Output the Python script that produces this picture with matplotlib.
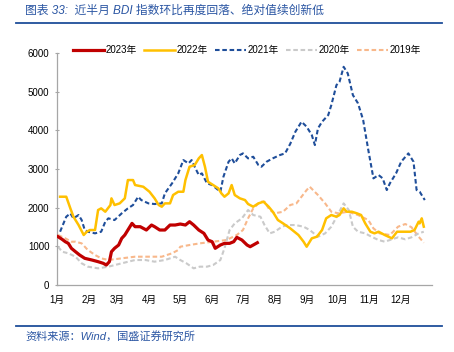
import matplotlib
matplotlib.use('Agg')
from matplotlib import pyplot as plt
from matplotlib.lines import Line2D

plt.rcParams['font.family'] = ['Liberation Sans', 'Noto Sans CJK SC', 'DejaVu Sans']

# day of year / BDI value
d2023 = [1, 5, 8, 11, 14, 18, 22, 27, 34, 40, 45, 48, 51, 53, 56, 60, 63, 66, 69, 73, 76, 81, 84, 87,
         92, 95, 100, 105, 110, 115, 120, 125, 129, 133, 138, 143, 147, 151, 154, 159, 163, 168, 172,
         175, 180, 185, 188, 191, 195]
v2023 = [1249, 1181, 1120, 1077, 949, 861, 776, 690, 646, 603, 561, 517, 603, 861, 949, 1034, 1207,
         1293, 1422, 1594, 1508, 1508, 1465, 1422, 1551, 1508, 1422, 1422, 1551, 1551, 1577, 1551, 1637,
         1551, 1422, 1336, 1163, 1120, 949, 1034, 1077, 1077, 1120, 1233, 1163, 1034, 990, 1034, 1094]

d2022 = [3, 9, 13, 16, 21, 26, 29, 32, 37, 40, 43, 47, 52, 53, 56, 61, 66, 69, 74, 76, 84, 90, 95, 99,
         102, 105, 110, 113, 118, 123, 125, 129, 134, 138, 141, 144, 147, 152, 157, 160, 163, 167, 170,
         173, 178, 183, 186, 191, 196, 201, 206, 210, 215, 220, 227, 235, 240, 243, 245, 248, 253, 258,
         262, 267, 272, 275, 279, 282, 287, 292, 296, 300, 305, 309, 313, 319, 326, 331, 337, 344, 348,
         352, 353, 355, 357]
v2022 = [2283, 2283, 1982, 1766, 1551, 1293, 1378, 1422, 1422, 1939, 1982, 1895, 2068, 2241, 2068,
         2111, 2241, 2714, 2714, 2585, 2541, 2412, 2241, 2068, 2025, 2111, 2111, 2327, 2412, 2412, 2714,
         3059, 3102, 3275, 3361, 3059, 2670, 2585, 2499, 2370, 2283, 2370, 2585, 2327, 2241, 2197, 2094,
         2025, 2111, 2154, 2025, 1895, 1680, 1594, 1465, 1293, 1119, 990, 1077, 1207, 1249, 1422, 1724,
         1810, 1766, 1810, 1982, 1895, 1895, 1853, 1810, 1594, 1378, 1336, 1378, 1293, 1207, 1378, 1378,
         1378, 1422, 1637, 1594, 1724, 1508]

d2021 = [3, 9, 13, 16, 21, 24, 27, 30, 37, 43, 47, 50, 56, 63, 69, 74, 79, 82, 89, 95, 102, 105, 112,
         118, 123, 128, 131, 134, 138, 141, 146, 151, 155, 159, 162, 167, 170, 173, 178, 181, 186, 191,
         196, 199, 204, 210, 217, 222, 227, 232, 238, 243, 248, 251, 254, 258, 264, 267, 272, 275, 279,
         283, 288, 293, 298, 303, 308, 313, 317, 321, 324, 330, 335, 342, 347, 350, 353, 358]
v2021 = [1378, 1766, 1853, 1724, 1810, 1680, 1422, 1378, 1336, 1378, 1637, 1724, 1680, 1853, 1982,
         2068, 2283, 2197, 2111, 2094, 2111, 2370, 2629, 2887, 3231, 3145, 3231, 3059, 2844, 2887, 2629,
         2585, 2499, 2412, 2800, 3188, 3275, 3145, 3361, 3404, 3275, 3317, 3102, 3059, 3188, 3275, 3361,
         3404, 3650, 3963, 4222, 4093, 3878, 3619, 4050, 4222, 4395, 4653, 5170, 5256, 5643, 5472, 4912,
         4697, 4265, 3490, 2758, 2844, 2758, 2456, 2629, 2887, 3188, 3404, 3188, 2456, 2412, 2197]

d2020 = [1, 5, 11, 18, 24, 30, 40, 50, 63, 76, 86, 95, 105, 115, 120, 123, 126, 133, 139, 146, 152, 159,
         163, 168, 173, 180, 186, 191, 198, 202, 207, 212, 219, 224, 232, 240, 246, 254, 261, 267, 274,
         279, 284, 288, 293, 300, 306, 313, 319, 326, 332, 339, 345, 352, 357]
v2020 = [990, 861, 820, 732, 561, 474, 431, 474, 561, 646, 646, 603, 646, 732, 646, 603, 561, 431, 474,
         474, 517, 646, 949, 1422, 1594, 1724, 1939, 1810, 1766, 1551, 1336, 1378, 1508, 1551, 1551, 1508,
         1422, 1249, 1336, 1508, 1853, 2111, 1939, 1508, 1378, 1336, 1249, 1163, 1120, 1181, 1233, 1181,
         1233, 1336, 1378]

d2019 = [1, 8, 14, 18, 24, 30, 37, 43, 50, 63, 76, 89, 102, 112, 118, 120, 129, 139, 152, 165, 175, 181,
         186, 191, 198, 202, 207, 212, 220, 227, 233, 238, 243, 246, 254, 261, 267, 274, 283, 293, 303,
         308, 314, 324, 332, 339, 345, 352, 357]
v2019 = [1293, 1207, 1120, 1120, 1077, 905, 776, 690, 646, 690, 732, 732, 732, 820, 905, 990, 1034,
         1077, 1120, 1163, 1293, 1422, 1724, 1982, 2154, 2154, 1939, 1853, 1895, 2068, 2111, 2283, 2456,
         2541, 2327, 2111, 1895, 1853, 1895, 1810, 1680, 1465, 1336, 1293, 1508, 1577, 1494, 1249, 1094]

month_pos = [0, 31, 59, 90, 120, 151, 181, 212, 243, 273, 304, 334]
month_lab = ['1月', '2月', '3月', '4月', '5月', '6月', '7月', '8月', '9月', '10月', '11月', '12月']

fig = plt.figure(figsize=(4.54, 3.52), dpi=100)
ax = fig.add_axes([57/454, 1-285/352, 375/454, 232/352])

dash = (0, (2.2, 1.3))
ax.plot(d2019, v2019, color='#F8B88B', lw=1.5, ls=dash, zorder=2)
ax.plot(d2020, v2020, color='#CACACA', lw=1.5, ls=dash, zorder=2)
ax.plot(d2021, v2021, color='#1F4E9A', lw=1.5, ls=dash, zorder=3)
ax.plot(d2022, v2022, color='#FFC000', lw=1.8, zorder=4)
ax.plot(d2023, v2023, color='#C00000', lw=2.3, zorder=5)

ax.set_xlim(0, 365)
ax.set_ylim(0, 6000)
ax.set_yticks(range(0, 7000, 1000))
ax.set_xticks(month_pos)
ax.set_xticklabels(month_lab)
ax.tick_params(axis='y', labelsize=7, length=3, direction='inout', color='#A6A6A6', pad=4)
ax.tick_params(axis='x', labelsize=7, length=0, pad=7)
for s in ['top', 'right']:
    ax.spines[s].set_visible(False)
for s in ['left', 'bottom']:
    ax.spines[s].set_color('#A6A6A6')
    ax.spines[s].set_linewidth(0.9)

handles = [Line2D([], [], color='#C00000', lw=2.3),
           Line2D([], [], color='#FFC000', lw=1.8),
           Line2D([], [], color='#1F4E9A', lw=1.5, ls=dash),
           Line2D([], [], color='#CACACA', lw=1.5, ls=dash),
           Line2D([], [], color='#F8B88B', lw=1.5, ls=dash)]
labels = ['2023年', '2022年', '2021年', '2020年', '2019年']
fig.legend(handles, labels, loc='center', bbox_to_anchor=(247/454, 1-50/352), ncol=5, frameon=False,
           fontsize=7, handlelength=3.2, handletextpad=0.2, columnspacing=0.7)

fig.text(25/454, 1-11/352, '图表 33:  近半月 BDI 指数环比再度回落、绝对值续创新低', fontsize=8.5,
         color='#2B56A3', style='italic', va='center', ha='left')
fig.add_artist(Line2D([16/454, 442/454], [1-23/352, 1-23/352], color='#1F4E9A', lw=1.3))
fig.add_artist(Line2D([16/454, 442/454], [1-326/352, 1-326/352], color='#1F4E9A', lw=1.3))
fig.text(25/454, 1-336/352, '资料来源：Wind，国盛证券研究所', fontsize=8, color='#2B56A3',
         style='italic', va='center', ha='left')

fig.savefig('out.png', dpi=100)
